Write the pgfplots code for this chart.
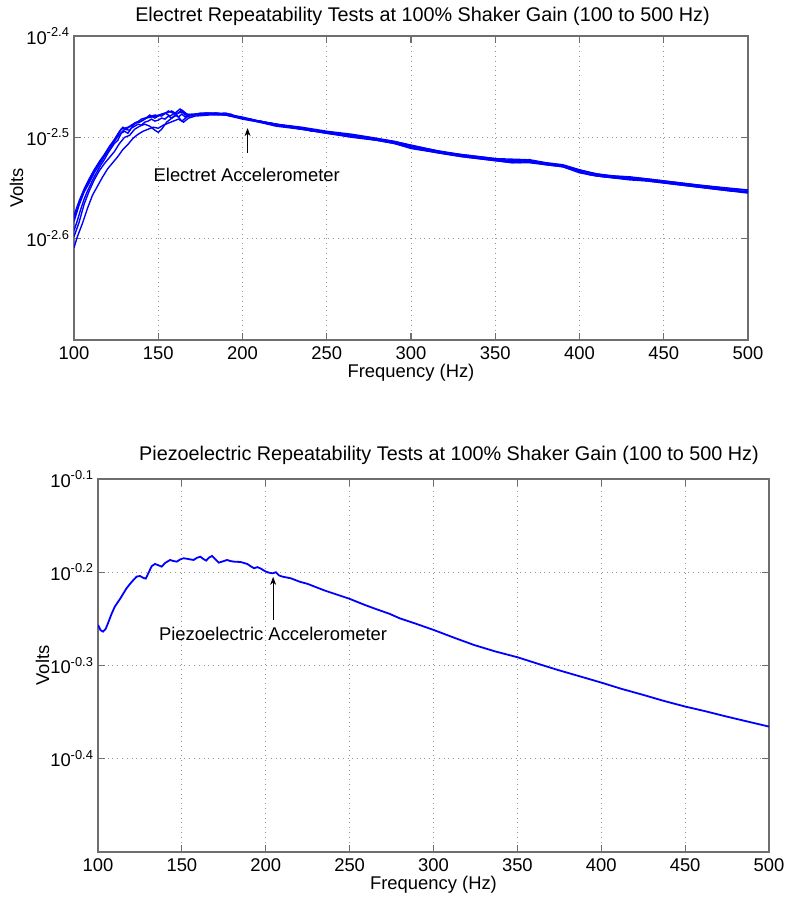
\documentclass[border=0pt]{standalone}
\usepackage{fontspec}
\setmainfont{Liberation Sans}
\usepackage{pgfplots}
\pgfplotsset{compat=1.18}
\usetikzlibrary{arrows.meta}
\definecolor{axgray}{RGB}{110,110,110}
\definecolor{gridgray}{RGB}{150,150,150}
\definecolor{mblue}{RGB}{0,0,255}
\newcommand{\fs}{\fontsize{9.2}{11}\selectfont}
\newcommand{\ft}{\fontsize{9.9}{12}\selectfont}
\pgfplotsset{mystyle/.style={
  scale only axis, xmin=100, xmax=500, xtick={100,150,...,500},
  grid=major, grid style={gridgray, dotted, line width=0.5pt},
  axis line style={axgray, line width=0.6pt},
  tick style={axgray, line width=0.6pt}, major tick length=3.5pt,
  tick align=inside, tick pos=both,
  ticklabel style={font=\fs},
  yticklabel style={xshift=1.5pt},
  label style={font=\fs},
  /pgf/number format/assume math mode=true,
  /pgf/number format/1000 sep={},
  xlabel={Frequency (Hz)}, ylabel={Volts},
  xlabel style={at={(axis description cs:0.5,0)}, anchor=center, yshift=-16.5pt},
  clip=true,
}}
\begin{document}
\begin{tikzpicture}
\useasboundingbox (0pt,0pt) rectangle (393.5pt,-454.5pt);
\node[font=\ft, anchor=base] at (211.25pt,-10.85pt) {Electret Repeatability Tests at 100\% Shaker Gain (100 to 500 Hz)};
\node[font=\ft, anchor=base] at (224.5pt,-230pt) {Piezoelectric Repeatability Tests at 100\% Shaker Gain (100 to 500 Hz)};
\begin{axis}[mystyle, at={(37pt,-170pt)}, anchor=south west, width=337pt, height=152pt,
  ymin=-2.7, ymax=-2.4, ytick={-2.6,-2.5,-2.4},
  yticklabels={10\textsuperscript{-2.6},10\textsuperscript{-2.5},10\textsuperscript{-2.4}},
  ylabel style={at={(axis description cs:-0.0852,0.5)}, anchor=center}]
\addplot[mblue, line width=0.7pt] coordinates {(100,-2.592) (102,-2.582) (104,-2.571) (106,-2.561) (108,-2.553) (110,-2.546) (112,-2.539) (114,-2.533) (116,-2.527) (118,-2.522) (120,-2.516) (122,-2.511) (124,-2.506) (126,-2.503) (128,-2.496) (130,-2.494) (132,-2.496) (134,-2.491) (136,-2.489) (138,-2.487) (140,-2.488) (142,-2.485) (144,-2.484) (146,-2.482) (148,-2.484) (150,-2.483) (152,-2.481) (154,-2.482) (156,-2.479) (158,-2.481) (160,-2.478) (162,-2.480) (164,-2.477) (166,-2.480) (168,-2.478) (170,-2.479) (172,-2.477) (175,-2.478) (178,-2.476) (181,-2.477) (184,-2.476) (187,-2.477) (190,-2.478) (193,-2.477) (196,-2.480) (199,-2.480) (202,-2.482) (205,-2.482) (208,-2.484) (211,-2.484) (214,-2.486) (217,-2.486) (220,-2.488) (223,-2.488) (226,-2.490) (229,-2.489) (232,-2.491) (235,-2.492) (238,-2.492) (241,-2.494) (244,-2.493) (247,-2.495) (250,-2.495) (255,-2.496) (260,-2.497) (265,-2.498) (270,-2.499) (275,-2.500) (280,-2.502) (285,-2.503) (290,-2.505) (295,-2.507) (300,-2.509) (305,-2.511) (310,-2.513) (315,-2.514) (320,-2.516) (325,-2.517) (330,-2.518) (335,-2.519) (340,-2.520) (345,-2.521) (350,-2.522) (355,-2.523) (360,-2.524) (365,-2.525) (367,-2.523) (370,-2.524) (375,-2.525) (380,-2.526) (385,-2.527) (390,-2.528) (394,-2.530) (398,-2.533) (402,-2.535) (406,-2.537) (410,-2.538) (415,-2.539) (420,-2.539) (425,-2.540) (430,-2.541) (435,-2.541) (440,-2.542) (445,-2.543) (450,-2.544) (455,-2.545) (460,-2.546) (465,-2.547) (470,-2.548) (475,-2.549) (480,-2.550) (485,-2.551) (490,-2.552) (495,-2.553) (500,-2.553)};
\addplot[mblue, line width=0.7pt] coordinates {(100,-2.577) (103,-2.563) (106,-2.551) (109,-2.541) (112,-2.532) (115,-2.524) (118,-2.517) (121,-2.509) (124,-2.502) (127,-2.494) (129,-2.490) (131,-2.492) (134,-2.488) (137,-2.485) (140,-2.484) (143,-2.481) (146,-2.480) (149,-2.479) (152,-2.477) (155,-2.476) (158,-2.474) (161,-2.477) (164,-2.473) (167,-2.477) (170,-2.478) (175,-2.477) (180,-2.476) (190,-2.477) (200,-2.480) (210,-2.484) (220,-2.487) (235,-2.490) (250,-2.494) (265,-2.497) (280,-2.501) (290,-2.504) (300,-2.508) (315,-2.513) (330,-2.517) (345,-2.520) (360,-2.523) (370,-2.522) (380,-2.525) (390,-2.527) (400,-2.532) (410,-2.536) (420,-2.538) (430,-2.539) (440,-2.541) (450,-2.543) (460,-2.545) (470,-2.547) (480,-2.549) (490,-2.551) (500,-2.552)};
\addplot[mblue, line width=0.7pt] coordinates {(100,-2.583) (103,-2.567) (106,-2.554) (109,-2.545) (112,-2.535) (115,-2.527) (118,-2.519) (121,-2.512) (124,-2.504) (127,-2.497) (130,-2.492) (133,-2.493) (136,-2.486) (139,-2.485) (142,-2.482) (145,-2.478) (148,-2.481) (151,-2.478) (154,-2.476) (157,-2.479) (160,-2.476) (163,-2.472) (166,-2.478) (170,-2.477) (180,-2.477) (190,-2.476) (200,-2.481) (210,-2.485) (220,-2.489) (235,-2.492) (250,-2.496) (265,-2.499) (280,-2.503) (290,-2.506) (300,-2.510) (315,-2.515) (330,-2.519) (345,-2.522) (360,-2.525) (370,-2.525) (380,-2.527) (390,-2.529) (400,-2.534) (410,-2.538) (420,-2.540) (430,-2.541) (440,-2.543) (450,-2.545) (460,-2.547) (470,-2.549) (480,-2.551) (490,-2.553) (500,-2.554)};
\addplot[mblue, line width=0.7pt] coordinates {(100,-2.609) (102,-2.598) (105,-2.585) (108,-2.570) (111,-2.557) (114,-2.548) (117,-2.539) (120,-2.531) (123,-2.525) (126,-2.519) (129,-2.512) (132,-2.507) (135,-2.501) (138,-2.497) (141,-2.494) (144,-2.492) (147,-2.490) (150,-2.491) (153,-2.488) (156,-2.486) (159,-2.484) (162,-2.482) (165,-2.485) (168,-2.481) (172,-2.479) (180,-2.478) (190,-2.478) (200,-2.482) (210,-2.485) (220,-2.488) (235,-2.492) (250,-2.496) (265,-2.500) (280,-2.503) (290,-2.506) (300,-2.511) (315,-2.515) (330,-2.519) (345,-2.522) (360,-2.525) (370,-2.524) (380,-2.527) (390,-2.529) (400,-2.535) (410,-2.538) (420,-2.540) (430,-2.542) (440,-2.543) (450,-2.545) (460,-2.547) (470,-2.549) (480,-2.551) (490,-2.553) (500,-2.555)};
\addplot[mblue, line width=0.7pt] coordinates {(100,-2.598) (103,-2.584) (106,-2.566) (109,-2.553) (112,-2.542) (115,-2.533) (118,-2.526) (121,-2.520) (124,-2.514) (127,-2.506) (130,-2.500) (133,-2.498) (136,-2.492) (139,-2.489) (142,-2.487) (145,-2.489) (148,-2.493) (150,-2.495) (152,-2.492) (155,-2.485) (158,-2.481) (161,-2.478) (164,-2.484) (167,-2.480) (170,-2.478) (180,-2.477) (190,-2.478) (200,-2.481) (220,-2.487) (250,-2.495) (280,-2.502) (300,-2.509) (330,-2.518) (360,-2.524) (370,-2.523) (390,-2.528) (400,-2.533) (420,-2.539) (440,-2.542) (460,-2.546) (480,-2.550) (500,-2.554)};
\addplot[mblue, line width=0.7pt] coordinates {(100,-2.580) (104,-2.560) (108,-2.546) (112,-2.533) (116,-2.523) (120,-2.512) (124,-2.503) (128,-2.492) (132,-2.490) (136,-2.487) (140,-2.482) (144,-2.480) (148,-2.478) (152,-2.479) (156,-2.474) (160,-2.477) (164,-2.475) (168,-2.479) (175,-2.476) (185,-2.476) (200,-2.481) (230,-2.490) (260,-2.497) (290,-2.504) (320,-2.515) (350,-2.521) (368,-2.522) (395,-2.530) (410,-2.537) (440,-2.541) (470,-2.547) (500,-2.552)};
\node[font=\fs] at (axis cs:202.5,-2.5374) {Electret Accelerometer};
\draw[black, line width=0.4pt, -{Stealth[length=4pt,width=3pt]}] (axis cs:203,-2.5153) -- (axis cs:203,-2.4909);
\end{axis}
\begin{axis}[mystyle, at={(49pt,-426pt)}, anchor=south west, width=335.5pt, height=186.5pt,
  ymin=-0.5, ymax=-0.1, ytick={-0.4,-0.3,-0.2,-0.1},
  yticklabels={10\textsuperscript{-0.4},10\textsuperscript{-0.3},10\textsuperscript{-0.2},10\textsuperscript{-0.1}},
  ylabel style={at={(axis description cs:-0.0827,0.5)}, anchor=center}]
\addplot[mblue, line width=0.9pt] coordinates {(100,-0.2565) (101.5,-0.2620) (103,-0.2637) (104.5,-0.2610) (106,-0.2545) (108,-0.2450) (110,-0.2369) (113,-0.2290) (117,-0.2172) (120,-0.2105) (123,-0.2047) (125,-0.2040) (127,-0.2060) (128.5,-0.2068) (130,-0.2011) (132,-0.1935) (134,-0.1911) (136,-0.1925) (138,-0.1940) (140,-0.1900) (143,-0.1868) (145,-0.1880) (147,-0.1886) (149,-0.1862) (151,-0.1850) (153,-0.1855) (155,-0.1862) (157,-0.1868) (159,-0.1845) (161,-0.1833) (163,-0.1860) (164.5,-0.1875) (166,-0.1845) (168,-0.1825) (170,-0.1860) (172,-0.1897) (175,-0.1880) (177,-0.1868) (179,-0.1880) (181,-0.1886) (185,-0.1890) (189,-0.1911) (191,-0.1935) (193,-0.1957) (195,-0.1945) (197,-0.1960) (200,-0.1993) (202,-0.2005) (204,-0.2011) (206,-0.2000) (208,-0.2035) (210,-0.2047) (215,-0.2065) (220,-0.2100) (225,-0.2125) (230,-0.2160) (235,-0.2195) (240,-0.2225) (245,-0.2255) (250,-0.2285) (259,-0.2350) (265,-0.2390) (274,-0.2447) (280,-0.2495) (290,-0.2555) (300,-0.2618) (312,-0.2700) (324,-0.2779) (337,-0.2850) (350,-0.2911) (362,-0.2980) (374,-0.3047) (387,-0.3115) (400,-0.3183) (412,-0.3250) (425,-0.3315) (437,-0.3378) (450,-0.3440) (462,-0.3490) (473,-0.3540) (487,-0.3600) (500,-0.3655)};
\node[font=\fs] at (axis cs:204.4,-0.266) {Piezoelectric Accelerometer};
\draw[black, line width=0.4pt, -{Stealth[length=4pt,width=3pt]}] (axis cs:204.4,-0.2511) -- (axis cs:204.4,-0.2050);
\end{axis}
\end{tikzpicture}
\end{document}
